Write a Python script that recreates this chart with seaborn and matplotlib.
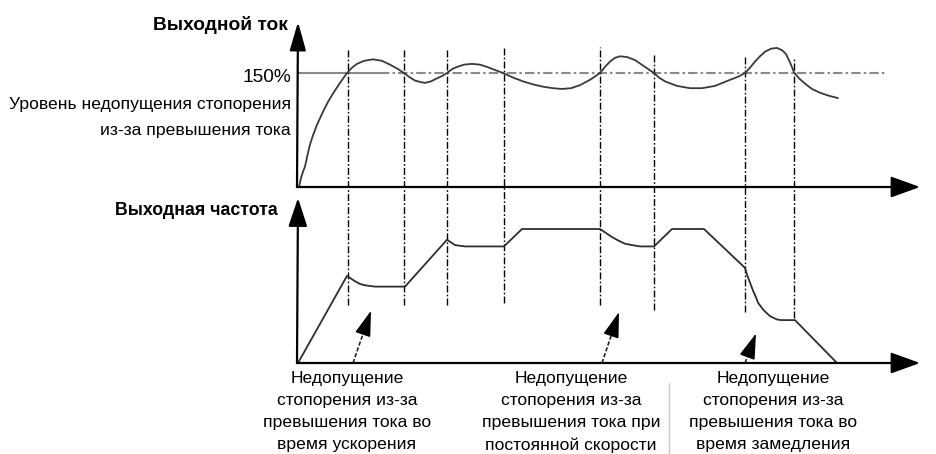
import matplotlib
matplotlib.use("Agg")
import matplotlib.pyplot as plt
import numpy as np
import pandas as pd
import seaborn as sns

# ---- data -------------------------------------------------------------
# time axis in arbitrary units, output current in % of rated current
cur_t = [2, 4, 6, 8, 11, 13, 16, 20, 26, 31, 36, 43, 50, 55, 60, 67, 76, 85,
         93, 100, 107, 112, 118, 124, 128, 134, 140, 145, 150, 155, 160, 167,
         175, 183, 190, 198, 206, 216, 226, 236, 246, 256, 265, 274, 283, 293,
         303, 308, 313, 318, 323, 330, 338, 348, 357, 362, 368, 380, 393, 405,
         418, 433, 441, 448, 453, 458, 463, 468, 474, 480, 485, 489, 493, 497,
         502, 508, 515, 523, 532, 541]
cur_pct = [0, 12, 20, 27, 45, 56, 68, 82, 99, 112, 123, 137, 150, 157, 162,
           166, 168, 166, 161, 156, 150, 145, 140, 138, 137, 139, 143, 146,
           150, 155, 158, 161, 162, 161, 158, 154, 150, 144, 139, 135, 132,
           130, 129, 130, 134, 141, 150, 158, 165, 170, 172, 171, 167, 158,
           150, 144, 139, 133, 130, 130, 133, 141, 145, 150, 157, 165, 172,
           178, 182, 183, 180, 175, 164, 151, 143, 136, 129, 124, 120, 117]

# output frequency in % of the set frequency
freq_t = [1, 50, 54, 58, 63, 68, 73, 78, 108, 150, 154, 158, 163, 168, 207,
          225, 303, 309, 315, 321, 328, 335, 343, 357, 375, 407, 448, 450,
          452, 454, 456, 459, 461, 464, 466, 470, 473, 477, 480, 484, 498, 540]
freq_pct = [0, 65, 63, 61, 59, 58, 57.5, 57, 57, 92, 90, 88, 87.5, 87, 87,
            100, 100, 97, 94, 91.5, 89, 88, 87, 87, 100, 100, 71, 66, 62, 58,
            54, 49, 45, 42, 40, 37, 35, 33.5, 32.5, 32, 32, 0]

stall_level = 150          # current limit, %
stall_level_label = "150%"

# moments where stall prevention starts / ends
event_t = [51, 107, 150, 207, 303, 357, 448, 497]

# arrows pointing at the three stall-prevention episodes: (t_base, t_tip, f_tip)
pointer_t0 = [56, 305, 448]
pointer_t1 = [74, 322, 459]
pointer_f1 = [39, 38, 22]

title_current = "Выходной ток"
title_freq = "Выходная частота"
level_lines = ["Уровень недопущения стопорения", "из-за превышения тока"]
notes = [
    ["Недопущение", "стопорения из-за", "превышения тока во", "время ускорения"],
    ["Недопущение", "стопорения из-за", "превышения тока при", "постоянной скорости"],
    ["Недопущение", "стопорения из-за", "превышения тока во", "время замедления"],
]

# ---- layout -----------------------------------------------------------
W, H = 937, 454
X0 = 297                      # pixel column of both vertical axes
CUR_Y0, CUR_Y150 = 187, 73    # pixel rows of 0 % and 150 % current
FRQ_Y0, FRQ_Y100 = 363, 229   # pixel rows of 0 % and 100 % frequency

sns.set_theme(style="white")
plt.rcParams["font.family"] = ["Liberation Sans", "DejaVu Sans"]

fig = plt.figure(figsize=(W / 100, H / 100), dpi=100)

ax_c = fig.add_axes([0, 0, 1, 1])
ax_f = fig.add_axes([0, 0, 1, 1])
for ax in (ax_c, ax_f):
    ax.set_axis_off()
    ax.patch.set_alpha(0)
    ax.set_xlim(-X0, W - X0)

k_c = stall_level / (CUR_Y0 - CUR_Y150)
ax_c.set_ylim((CUR_Y0 - H) * k_c, CUR_Y0 * k_c)
k_f = 100 / (FRQ_Y0 - FRQ_Y100)
ax_f.set_ylim((FRQ_Y0 - H) * k_f, FRQ_Y0 * k_f)

cur_df = pd.DataFrame({"t": cur_t, "current": cur_pct})
freq_df = pd.DataFrame({"t": freq_t, "freq": freq_pct})

# stall prevention level: solid near the axis, dash-dot beyond
ax_c.plot([0, 83], [stall_level, stall_level], color="#8a8a8a", lw=1.5,
          solid_capstyle="butt", zorder=2)
ax_c.plot([83, 590], [stall_level, stall_level], color="#8a8a8a", lw=1.5,
          linestyle=(0, (4.5, 1.5, 1.2, 1.5)), zorder=2)

# event markers spanning both panels (top/bottom rows in pixels)
ev_top = [48, 48, 48, 47, 47, 54, 56, 59]
ev_bot = [305, 305, 305, 303, 305, 310, 312, 318]
for t, a, b in zip(event_t, ev_top, ev_bot):
    ax_c.axvline(t, ymin=1 - b / H, ymax=1 - a / H, color="black", lw=1.0,
                 linestyle=(0, (5, 1.6, 1.2, 1.6)), zorder=3)

sns.lineplot(data=cur_df, x="t", y="current", ax=ax_c, color="#3a3a3a",
             lw=1.3, estimator=None, sort=False, zorder=4)
sns.lineplot(data=freq_df, x="t", y="freq", ax=ax_f, color="#2e2e2e",
             lw=1.3, estimator=None, sort=False, zorder=4)
for ax in (ax_c, ax_f):
    ax.set_xlabel("")
    ax.set_ylabel("")
    ax.set_axis_off()


def axis_arrow(ax, start, end, hl, hw):
    ax.annotate("", xy=end, xytext=start,
                arrowprops=dict(arrowstyle=f"-|>,head_length={hl},head_width={hw}",
                                mutation_scale=10, lw=1.6, color="black",
                                shrinkA=0, shrinkB=0),
                zorder=5)


x_end = 920 - X0
axis_arrow(ax_c, (0, 0), (x_end, 0), 1.8, 0.65)
axis_arrow(ax_f, (0, 0), (x_end, 0), 1.8, 0.65)
axis_arrow(ax_c, (0, 0), (1, (CUR_Y0 - 22) * k_c), 1.75, 0.5)
axis_arrow(ax_f, (0, 0), (1, (FRQ_Y0 - 198) * k_f), 1.75, 0.58)

# pointer arrows: dashed shaft, solid head
for t0, t1, f1 in zip(pointer_t0, pointer_t1, pointer_f1):
    d = np.array([t1 - t0, f1 / k_f])
    d = d / np.hypot(*d)
    head_px = 22
    hb_t = t1 - d[0] * head_px
    hb_f = f1 - d[1] * head_px * k_f
    ax_f.plot([t0, hb_t], [0, hb_f], color="#222222", lw=1.2,
              linestyle=(0, (2.5, 1.2)), zorder=5)
    ax_f.annotate("", xy=(t1, f1), xytext=(hb_t, hb_f),
                  arrowprops=dict(arrowstyle="-|>,head_length=1.6,head_width=0.5",
                                  mutation_scale=10, lw=1.0, color="black",
                                  shrinkA=0, shrinkB=0),
                  zorder=6)

# ---- text -------------------------------------------------------------
def ftext(x, y, s, **kw):
    fig.text(x / W, 1 - y / H, s, **kw)


ftext(288, 25, title_current, ha="right", va="center", fontsize=13.8,
      fontweight="bold", color="black")
ftext(278, 211, title_freq, ha="right", va="center", fontsize=12.8,
      fontweight="bold", color="black")
ftext(291, 77, stall_level_label, ha="right", va="center", fontsize=13.8,
      color="black")
ftext(291, 105, level_lines[0], ha="right", va="center", fontsize=12.6,
      color="black")
ftext(291, 130, level_lines[1], ha="right", va="center", fontsize=12.6,
      color="black")

note_cx = [347, 571, 773]
note_rows = [379, 401, 423, 445]
for cx, lines in zip(note_cx, notes):
    for y, s in zip(note_rows, lines):
        ftext(cx, y, s, ha="center", va="center", fontsize=12.6, color="black")

# thin divider between the last two notes
fig.add_artist(plt.Line2D([669 / W, 669 / W], [1 - 383 / H, 0],
                          color="#c8c8c8", lw=1.0))

fig.savefig("out.png", dpi=100, facecolor="white")
